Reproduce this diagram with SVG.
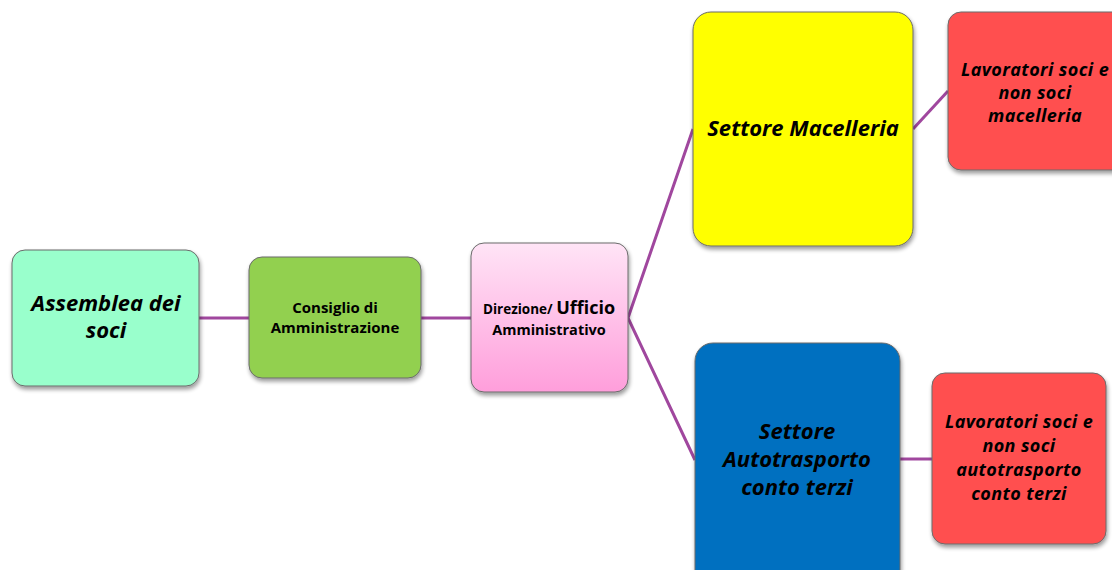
<svg xmlns="http://www.w3.org/2000/svg" width="1112" height="570" viewBox="0 0 1112 570">
  <defs>
    <linearGradient id="pinkFill" x1="0" y1="0" x2="0" y2="1">
      <stop offset="0" stop-color="#FFE4F6"/>
      <stop offset="1" stop-color="#FF9EDB"/>
    </linearGradient>
    <filter id="shadow" x="-10%" y="-10%" width="125%" height="125%">
      <feGaussianBlur in="SourceAlpha" stdDeviation="2"/>
      <feOffset dx="1" dy="3" result="b"/>
      <feComponentTransfer><feFuncA type="linear" slope="0.4"/></feComponentTransfer>
      <feMerge><feMergeNode/><feMergeNode in="SourceGraphic"/></feMerge>
    </filter>
  </defs>
  <style>
    .box { stroke: #6b6b6b; stroke-width: 1; filter: url(#shadow); }
    .lbl { font-family: "Open Sans", Lato, "Liberation Sans", sans-serif; font-weight: bold; font-style: italic; fill: #000; text-anchor: middle; }
    .up { font-style: normal; }
    .wide { letter-spacing: 0.4px; }
    .edge { stroke: #A0479E; stroke-width: 3; fill: none; }
  </style>
  <rect width="1112" height="570" fill="#fff"/>

  <g id="connectors">
    <line class="edge" x1="199" y1="318" x2="249" y2="318"/>
    <line class="edge" x1="421" y1="318" x2="471" y2="318"/>
    <polyline class="edge" points="693,129 628,318 695,460"/>
    <line class="edge" x1="913" y1="129" x2="948" y2="91"/>
    <line class="edge" x1="900" y1="459" x2="932" y2="459"/>
  </g>

  <g id="assemblea">
    <rect class="box" x="12" y="250" width="187" height="136" rx="13" fill="#99FFCC"/>
    <text class="lbl" font-size="22" x="106" y="311">Assemblea dei</text>
    <text class="lbl" font-size="22" x="106" y="338">soci</text>
  </g>

  <g id="consiglio">
    <rect class="box" x="249" y="257" width="172" height="121" rx="13" fill="#92D050"/>
    <text class="lbl up" font-size="15" x="335" y="313">Consiglio di</text>
    <text class="lbl up" font-size="15" x="335" y="333">Amministrazione</text>
  </g>

  <g id="direzione">
    <rect class="box" x="471" y="243" width="157" height="149" rx="13" fill="url(#pinkFill)"/>
    <text class="lbl up" font-size="13.5" x="549" y="314">Direzione/ <tspan font-size="18">Ufficio</tspan></text>
    <text class="lbl up" font-size="14.5" x="549" y="335">Amministrativo</text>
  </g>

  <g id="macelleria">
    <rect class="box" x="693" y="12" width="220" height="234" rx="18" fill="#FFFF00"/>
    <text class="lbl" font-size="22" x="803" y="136">Settore Macelleria</text>
  </g>

  <g id="lavoratori-macelleria">
    <rect class="box" x="948" y="12" width="180" height="158" rx="13" fill="#FF5050"/>
    <text class="lbl wide" font-size="18" x="1035" y="76">Lavoratori soci e</text>
    <text class="lbl wide" font-size="18" x="1035" y="99">non soci</text>
    <text class="lbl wide" font-size="18" x="1035" y="122">macelleria</text>
  </g>

  <g id="autotrasporto">
    <rect class="box" x="695" y="343" width="205" height="245" rx="18" fill="#0070C0"/>
    <text class="lbl" font-size="22" x="797" y="439">Settore</text>
    <text class="lbl" font-size="22" x="797" y="467">Autotrasporto</text>
    <text class="lbl" font-size="22" x="797" y="495">conto terzi</text>
  </g>

  <g id="lavoratori-autotrasporto">
    <rect class="box" x="932" y="373" width="174" height="171" rx="13" fill="#FF5050"/>
    <text class="lbl wide" font-size="18" x="1019" y="428">Lavoratori soci e</text>
    <text class="lbl wide" font-size="18" x="1019" y="452">non soci</text>
    <text class="lbl wide" font-size="18" x="1019" y="476">autotrasporto</text>
    <text class="lbl wide" font-size="18" x="1019" y="500">conto terzi</text>
  </g>
</svg>
